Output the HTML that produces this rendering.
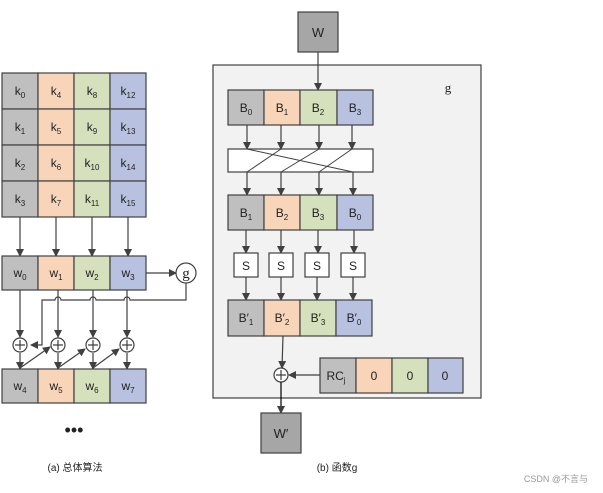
<!DOCTYPE html>
<html><head><meta charset="utf-8"><style>
html,body{margin:0;padding:0;background:#fff;}
svg{display:block;font-family:"Liberation Sans","Noto Sans CJK SC",sans-serif;}
</style></head><body>
<svg width="603" height="493" viewBox="0 0 603 493" xmlns="http://www.w3.org/2000/svg">
<defs>
<marker id="a" markerWidth="8" markerHeight="8" refX="7" refY="4" orient="auto" markerUnits="userSpaceOnUse"><path d="M0,0 L8,4 L0,8 z" fill="#404040"/></marker>
</defs>
<g stroke="#404040" stroke-width="1.2" font-size="12" text-anchor="middle">
<!-- left k grid -->
<g>
<rect x="2" y="73" width="36" height="36" fill="#bfbfbf"/><rect x="38" y="73" width="36" height="36" fill="#f8d5b9"/><rect x="74" y="73" width="36" height="36" fill="#d5e0bd"/><rect x="110" y="73" width="36" height="36" fill="#b8c2e0"/>
<rect x="2" y="109" width="36" height="36" fill="#bfbfbf"/><rect x="38" y="109" width="36" height="36" fill="#f8d5b9"/><rect x="74" y="109" width="36" height="36" fill="#d5e0bd"/><rect x="110" y="109" width="36" height="36" fill="#b8c2e0"/>
<rect x="2" y="145" width="36" height="36" fill="#bfbfbf"/><rect x="38" y="145" width="36" height="36" fill="#f8d5b9"/><rect x="74" y="145" width="36" height="36" fill="#d5e0bd"/><rect x="110" y="145" width="36" height="36" fill="#b8c2e0"/>
<rect x="2" y="181" width="36" height="36" fill="#bfbfbf"/><rect x="38" y="181" width="36" height="36" fill="#f8d5b9"/><rect x="74" y="181" width="36" height="36" fill="#d5e0bd"/><rect x="110" y="181" width="36" height="36" fill="#b8c2e0"/>
</g>
<g stroke="none" fill="#222">
<text x="20" y="95">k<tspan font-size="8" dy="3">0</tspan></text><text x="56" y="95">k<tspan font-size="8" dy="3">4</tspan></text><text x="92" y="95">k<tspan font-size="8" dy="3">8</tspan></text><text x="128" y="95">k<tspan font-size="8" dy="3">12</tspan></text>
<text x="20" y="131">k<tspan font-size="8" dy="3">1</tspan></text><text x="56" y="131">k<tspan font-size="8" dy="3">5</tspan></text><text x="92" y="131">k<tspan font-size="8" dy="3">9</tspan></text><text x="128" y="131">k<tspan font-size="8" dy="3">13</tspan></text>
<text x="20" y="167">k<tspan font-size="8" dy="3">2</tspan></text><text x="56" y="167">k<tspan font-size="8" dy="3">6</tspan></text><text x="92" y="167">k<tspan font-size="8" dy="3">10</tspan></text><text x="128" y="167">k<tspan font-size="8" dy="3">14</tspan></text>
<text x="20" y="203">k<tspan font-size="8" dy="3">3</tspan></text><text x="56" y="203">k<tspan font-size="8" dy="3">7</tspan></text><text x="92" y="203">k<tspan font-size="8" dy="3">11</tspan></text><text x="128" y="203">k<tspan font-size="8" dy="3">15</tspan></text>
</g>
<g fill="none" marker-end="url(#a)">
<line x1="20" y1="217" x2="20" y2="256"/><line x1="56" y1="217" x2="56" y2="256"/><line x1="92" y1="217" x2="92" y2="256"/><line x1="128" y1="217" x2="128" y2="256"/>
</g>
<!-- w row -->
<rect x="2" y="256" width="36" height="34" fill="#bfbfbf"/><rect x="38" y="256" width="36" height="34" fill="#f8d5b9"/><rect x="74" y="256" width="36" height="34" fill="#d5e0bd"/><rect x="110" y="256" width="36" height="34" fill="#b8c2e0"/>
<g stroke="none" fill="#222"><text x="20" y="277">w<tspan font-size="8" dy="3">0</tspan></text><text x="56" y="277">w<tspan font-size="8" dy="3">1</tspan></text><text x="92" y="277">w<tspan font-size="8" dy="3">2</tspan></text><text x="128" y="277">w<tspan font-size="8" dy="3">3</tspan></text></g>
<line x1="146" y1="273" x2="176" y2="273" marker-end="url(#a)"/>
<circle cx="186" cy="273" r="10" fill="#fff"/>
<text x="186" y="278" stroke="none" fill="#222" font-size="15" font-family="Liberation Serif">g</text>
<path d="M186,283 V300 H130 a3,3 0 0 0 -6,0 H96 a3,3 0 0 0 -6,0 H61 a3,3 0 0 0 -6,0 H42 V345 H31" fill="none" marker-end="url(#a)"/>
<g fill="none" marker-end="url(#a)">
<line x1="20" y1="290" x2="20" y2="337"/><line x1="58" y1="290" x2="58" y2="337"/><line x1="93" y1="290" x2="93" y2="337"/><line x1="127" y1="290" x2="127" y2="337"/>
<line x1="20" y1="353" x2="20" y2="369"/><line x1="58" y1="353" x2="58" y2="369"/><line x1="93" y1="353" x2="93" y2="369"/><line x1="127" y1="353" x2="127" y2="369"/>
<line x1="20" y1="368" x2="50" y2="347"/><line x1="58" y1="368" x2="85" y2="349"/><line x1="93" y1="368" x2="119" y2="349"/>
</g>
<g fill="#fff"><circle cx="20" cy="345" r="7"/><circle cx="58" cy="345" r="7"/><circle cx="93" cy="345" r="7"/><circle cx="127" cy="345" r="7"/></g>
<g><path d="M15,345h10M20,340v10M53,345h10M58,340v10M88,345h10M93,340v10M122,345h10M127,340v10"/></g>
<rect x="2" y="369" width="36" height="34" fill="#bfbfbf"/><rect x="38" y="369" width="36" height="34" fill="#f8d5b9"/><rect x="74" y="369" width="36" height="34" fill="#d5e0bd"/><rect x="110" y="369" width="36" height="34" fill="#b8c2e0"/>
<g stroke="none" fill="#222"><text x="20" y="390">w<tspan font-size="8" dy="3">4</tspan></text><text x="56" y="390">w<tspan font-size="8" dy="3">5</tspan></text><text x="92" y="390">w<tspan font-size="8" dy="3">6</tspan></text><text x="128" y="390">w<tspan font-size="8" dy="3">7</tspan></text>
<text x="74" y="436" font-size="18">•••</text>
<text x="75" y="471" font-size="10">(a) 总体算法</text>
<text x="337" y="471" font-size="10">(b) 函数g</text>
</g>
<!-- right -->
<rect x="298" y="12" width="40" height="40" fill="#a6a6a6"/>
<text x="318" y="37" stroke="none" fill="#222" font-size="13">W</text>
<rect x="213" y="65" width="268" height="333" fill="#f2f2f2"/>
<text x="448" y="92" stroke="none" fill="#222" font-size="13" font-family="Liberation Serif">g</text>
<line x1="318" y1="52" x2="318" y2="90" marker-end="url(#a)"/>
<rect x="228" y="90" width="36" height="35" fill="#bfbfbf"/><rect x="264" y="90" width="36" height="35" fill="#f8d5b9"/><rect x="300" y="90" width="37" height="35" fill="#d5e0bd"/><rect x="337" y="90" width="36" height="35" fill="#b8c2e0"/>
<g stroke="none" fill="#222"><text x="246" y="112">B<tspan font-size="8" dy="3">0</tspan></text><text x="282" y="112">B<tspan font-size="8" dy="3">1</tspan></text><text x="318" y="112">B<tspan font-size="8" dy="3">2</tspan></text><text x="355" y="112">B<tspan font-size="8" dy="3">3</tspan></text></g>
<g fill="none" marker-end="url(#a)"><line x1="247" y1="125" x2="247" y2="149"/><line x1="281" y1="125" x2="281" y2="149"/><line x1="319" y1="125" x2="319" y2="149"/><line x1="352" y1="125" x2="352" y2="149"/></g>
<rect x="228" y="149" width="145" height="23" fill="#fff"/>
<g stroke-width="1"><line x1="247" y1="149" x2="353" y2="172"/><line x1="281" y1="149" x2="247" y2="172"/><line x1="319" y1="149" x2="281" y2="172"/><line x1="352" y1="149" x2="319" y2="172"/></g>
<g fill="none" marker-end="url(#a)"><line x1="247" y1="172" x2="247" y2="195"/><line x1="281" y1="172" x2="281" y2="195"/><line x1="319" y1="172" x2="319" y2="195"/><line x1="353" y1="172" x2="353" y2="195"/></g>
<rect x="228" y="195" width="36" height="35" fill="#bfbfbf"/><rect x="264" y="195" width="36" height="35" fill="#f8d5b9"/><rect x="300" y="195" width="37" height="35" fill="#d5e0bd"/><rect x="337" y="195" width="36" height="35" fill="#b8c2e0"/>
<g stroke="none" fill="#222"><text x="246" y="217">B<tspan font-size="8" dy="3">1</tspan></text><text x="282" y="217">B<tspan font-size="8" dy="3">2</tspan></text><text x="318" y="217">B<tspan font-size="8" dy="3">3</tspan></text><text x="355" y="217">B<tspan font-size="8" dy="3">0</tspan></text></g>
<g fill="none" marker-end="url(#a)"><line x1="246" y1="230" x2="246" y2="253"/><line x1="281" y1="230" x2="281" y2="253"/><line x1="318" y1="230" x2="318" y2="253"/><line x1="354" y1="230" x2="354" y2="253"/></g>
<g fill="#fff"><rect x="234" y="253" width="24" height="24"/><rect x="269" y="253" width="24" height="24"/><rect x="305" y="253" width="24" height="24"/><rect x="341" y="253" width="24" height="24"/></g>
<g stroke="none" fill="#222"><text x="246" y="270">S</text><text x="281" y="270">S</text><text x="317" y="270">S</text><text x="353" y="270">S</text></g>
<g fill="none" marker-end="url(#a)"><line x1="246" y1="277" x2="246" y2="300"/><line x1="281" y1="277" x2="281" y2="300"/><line x1="317" y1="277" x2="317" y2="300"/><line x1="353" y1="277" x2="353" y2="300"/></g>
<rect x="228" y="300" width="36" height="36" fill="#bfbfbf"/><rect x="264" y="300" width="36" height="36" fill="#f8d5b9"/><rect x="300" y="300" width="36" height="36" fill="#d5e0bd"/><rect x="336" y="300" width="36" height="36" fill="#b8c2e0"/>
<g stroke="none" fill="#222"><text x="246" y="322">B′<tspan font-size="8" dy="3">1</tspan></text><text x="282" y="322">B′<tspan font-size="8" dy="3">2</tspan></text><text x="318" y="322">B′<tspan font-size="8" dy="3">3</tspan></text><text x="354" y="322">B′<tspan font-size="8" dy="3">0</tspan></text></g>
<line x1="283" y1="336" x2="282" y2="368" marker-end="url(#a)"/>
<line x1="320" y1="375" x2="289" y2="375" marker-end="url(#a)"/>
<circle cx="281" cy="375" r="7" fill="#fff"/><path d="M276,375h10M281,370v10"/>
<rect x="320" y="358" width="36" height="35" fill="#bfbfbf"/><rect x="356" y="358" width="36" height="35" fill="#f8d5b9"/><rect x="392" y="358" width="36" height="35" fill="#d5e0bd"/><rect x="428" y="358" width="35" height="35" fill="#b8c2e0"/>
<g stroke="none" fill="#222"><text x="336" y="380">RC<tspan font-size="8" dy="3">j</tspan></text><text x="374" y="380">0</text><text x="410" y="380">0</text><text x="445" y="380">0</text></g>
<line x1="281" y1="382" x2="281" y2="413" stroke="#000" marker-end="url(#a)"/>
<rect x="261" y="413" width="40" height="40" fill="#a6a6a6"/>
<text x="281" y="438" stroke="none" fill="#222" font-size="13">W′</text>
<text x="556" y="482" stroke="none" fill="#999" font-size="9">CSDN @不言与</text>
</g>
</svg>
</body></html>
